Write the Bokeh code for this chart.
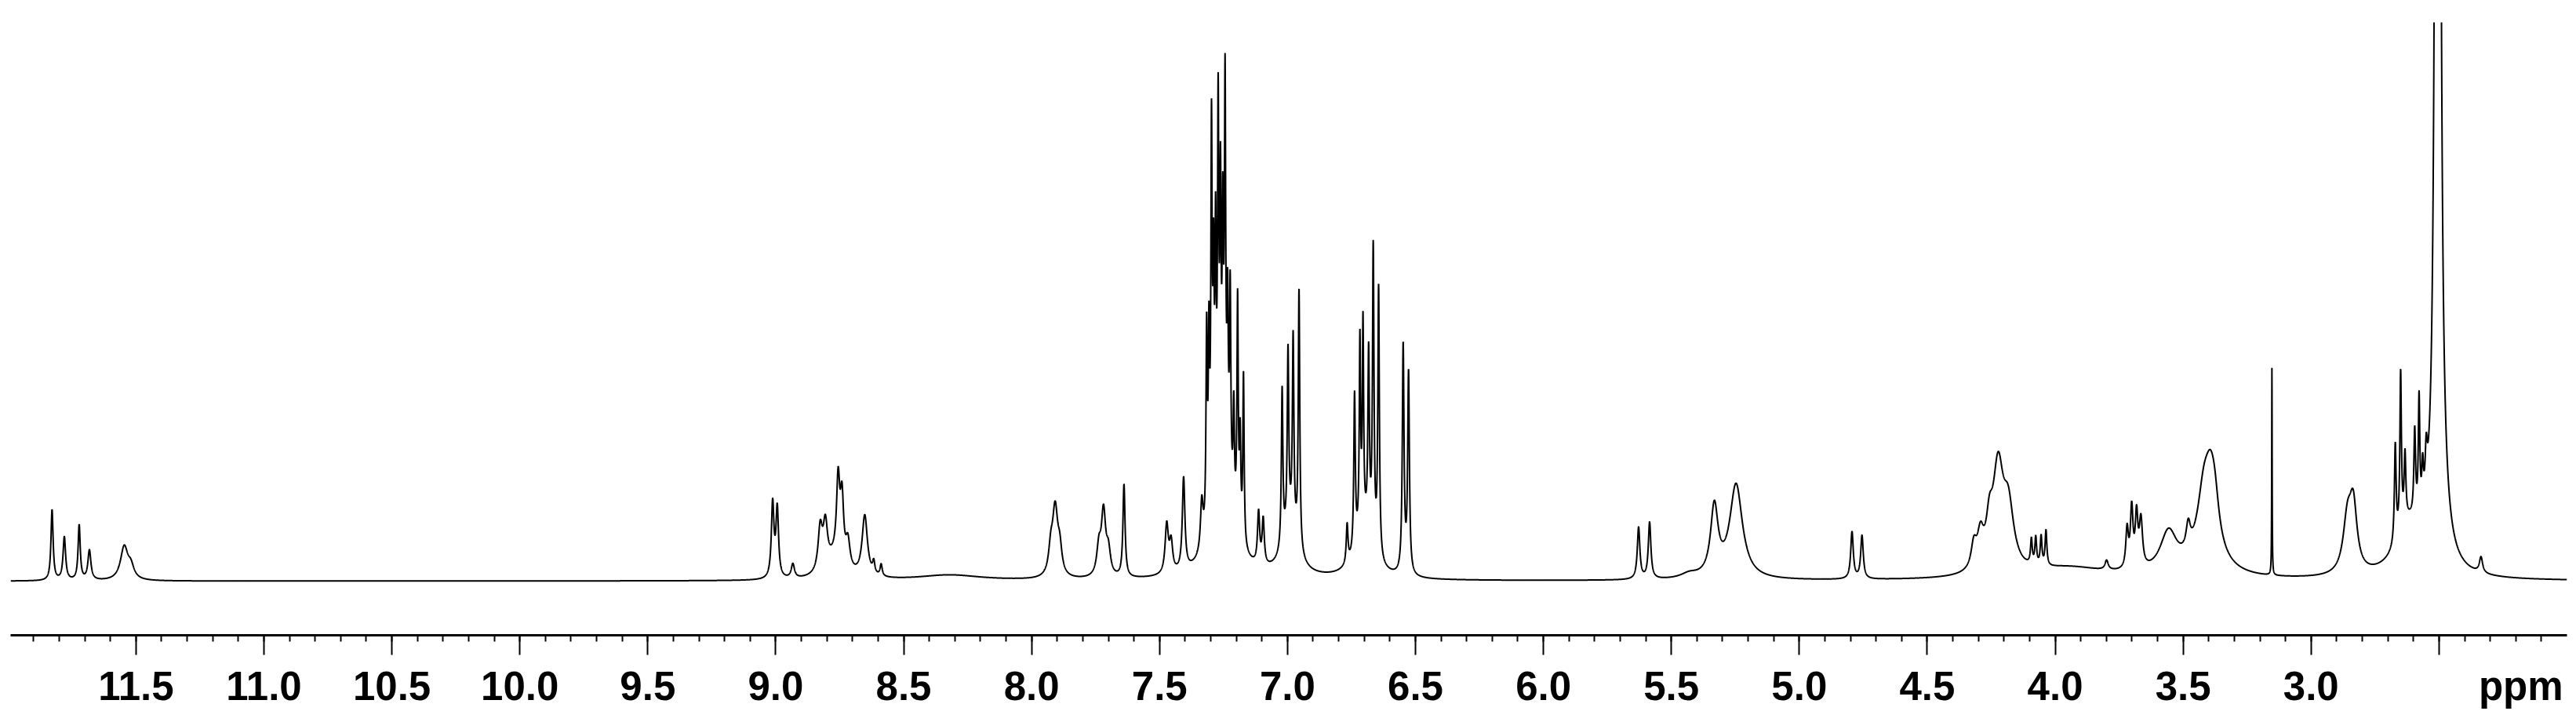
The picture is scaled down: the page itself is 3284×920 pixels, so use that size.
import numpy as np
from bokeh.plotting import figure
from bokeh.models import Range1d, FixedTicker, CustomJSTickFormatter, LinearAxis, ColumnDataSource
from bokeh.embed import file_html
from bokeh.resources import INLINE

# ---- data: peak table (ppm, height, FWHM in ppm) ----
peak_ppm = [
    11.828, 11.780, 11.722, 11.682, 11.546, 11.520,
    9.012, 8.994, 8.933, 8.826, 8.806, 8.756, 8.741, 8.718, 8.770, 8.652, 8.617, 8.588, 8.320,
    7.908, 7.925, 7.890, 7.719, 7.737, 7.700, 7.639, 7.472, 7.455, 7.406, 7.335,
    7.316, 7.307, 7.297, 7.289, 7.281, 7.271, 7.262, 7.253, 7.244, 7.234, 7.224, 7.210, 7.195, 7.185, 7.172, 7.250,
    7.113, 7.095,
    7.021, 6.998, 6.978, 6.955, 6.990,
    6.767, 6.738, 6.717, 6.705, 6.683, 6.665, 6.644, 6.700,
    6.548, 6.527,
    5.628, 5.585, 5.430, 5.332, 5.247,
    4.794, 4.755,
    4.318, 4.292, 4.257, 4.223, 4.183,
    4.093, 4.076, 4.055, 4.036, 3.950,
    3.799, 3.719, 3.701, 3.682, 3.665,
    3.557, 3.480,
    3.419, 3.393, 3.376, 3.400,
    3.153,
    2.858, 2.835,
    2.671, 2.650, 2.633, 2.595, 2.578, 2.564, 2.550, 2.620,
    2.505, 2.500,
    2.336,
]
peak_height = [
    90, 55, 70, 38, 42, 15,
    95, 88, 18, 55, 55, 100, 80, 35, 25, 78, 15, 15, 7,
    85, 30, 30, 80, 35, 30, 118, 62, 38, 118, 62,
    250, 220, 470, 260, 300, 450, 330, 280, 470, 200, 250, 130, 290, 120, 215, 130,
    66, 58,
    200, 225, 245, 330, 60,
    50, 198, 243, 256, 228, 378, 343, 60,
    290, 255,
    66, 72, 6, 88, 120,
    60, 55,
    30, 40, 45, 128, 75,
    32, 35, 37, 45, 15,
    12, 50, 75, 65, 60,
    52, 32,
    75, 68, 42, 26,
    265,
    65, 80,
    125, 200, 85, 110, 150, 55, 60, 60,
    6000, 80,
    20,
]
peak_width = [
    0.010, 0.012, 0.010, 0.014, 0.035, 0.030,
    0.012, 0.012, 0.015, 0.020, 0.020, 0.015, 0.015, 0.020, 0.080, 0.025, 0.010, 0.010, 0.300,
    0.025, 0.020, 0.020, 0.020, 0.020, 0.020, 0.010, 0.015, 0.015, 0.012, 0.012,
    0.006, 0.006, 0.006, 0.006, 0.006, 0.006, 0.006, 0.006, 0.006, 0.006, 0.006, 0.006, 0.006, 0.006, 0.006, 0.090,
    0.010, 0.010,
    0.007, 0.007, 0.007, 0.007, 0.070,
    0.008, 0.007, 0.006, 0.006, 0.007, 0.007, 0.007, 0.080,
    0.008, 0.008,
    0.012, 0.012, 0.080, 0.035, 0.060,
    0.012, 0.012,
    0.025, 0.030, 0.030, 0.050, 0.050,
    0.008, 0.008, 0.008, 0.008, 0.400,
    0.015, 0.012, 0.012, 0.012, 0.015,
    0.080, 0.020,
    0.060, 0.050, 0.040, 0.150,
    0.002,
    0.040, 0.035,
    0.008, 0.007, 0.008, 0.008, 0.007, 0.008, 0.010, 0.120,
    0.010, 0.060,
    0.015,
]

major_ticks = [11.5, 11.0, 10.5, 10.0, 9.5, 9.0, 8.5, 8.0, 7.5, 7.0, 6.5, 6.0, 5.5, 5.0, 4.5, 4.0, 3.5, 3.0, 2.5]
minor_ticks = [round(12.0 - 0.1 * i, 1) for i in range(1, 100)]
label_ticks = [11.5, 11.0, 10.5, 10.0, 9.5, 9.0, 8.5, 8.0, 7.5, 7.0, 6.5, 6.0, 5.5, 5.0, 4.5, 4.0, 3.5, 3.0]
unit_label = "ppm"
unit_position = 2.18

# ---- spectrum from the peak table (Lorentzian lines) ----
ppm = np.linspace(11.99, 2.0, 24000)
intensity = np.zeros_like(ppm)
for c, h, w in zip(peak_ppm, peak_height, peak_width):
    intensity += h / (1.0 + (2.0 * (ppm - c) / w) ** 2)

src = ColumnDataSource(dict(ppm=ppm, intensity=intensity))

p = figure(width=3276, height=912, output_backend="svg", toolbar_location=None,
           x_range=Range1d(11.99, 2.0), y_range=Range1d(-69, 712),
           y_axis_location=None, min_border_left=13, min_border_right=4,
           min_border_top=28, min_border_bottom=103)
p.outline_line_color = None
p.xgrid.grid_line_color = None
p.ygrid.grid_line_color = None
p.background_fill_color = "white"
p.border_fill_color = "white"

p.line("ppm", "intensity", source=src, line_color="black", line_width=2)

# axis with line and ticks (nearest to the plot)
ax = p.xaxis[0]
ax.ticker = FixedTicker(ticks=major_ticks, minor_ticks=minor_ticks)
ax.formatter = CustomJSTickFormatter(code="return '';")
ax.axis_line_width = 3
ax.axis_line_color = "black"
ax.major_tick_line_width = 2
ax.major_tick_line_color = "black"
ax.minor_tick_line_width = 2
ax.minor_tick_line_color = "black"
ax.major_tick_in = 0
ax.major_tick_out = 25
ax.minor_tick_in = 0
ax.minor_tick_out = 8
ax.major_label_standoff = 0
ax.major_label_text_font_size = "0px"

# axis carrying the tick labels and the unit
lab = LinearAxis(
    ticker=FixedTicker(ticks=label_ticks + [unit_position], minor_ticks=[]),
    formatter=CustomJSTickFormatter(
        args=dict(u=unit_label, up=unit_position),
        code="return Math.abs(tick - up) < 1e-6 ? u : tick.toFixed(1);"),
    axis_line_color=None, major_tick_line_color=None, minor_tick_line_color=None,
    major_tick_in=0, major_tick_out=0, minor_tick_in=0, minor_tick_out=0,
    major_label_standoff=11,
    major_label_text_font="Liberation Sans", major_label_text_font_style="bold",
    major_label_text_font_size="51px", major_label_text_color="black",
)
p.add_layout(lab, "below")

open("out.html", "w").write(file_html(p, INLINE))
